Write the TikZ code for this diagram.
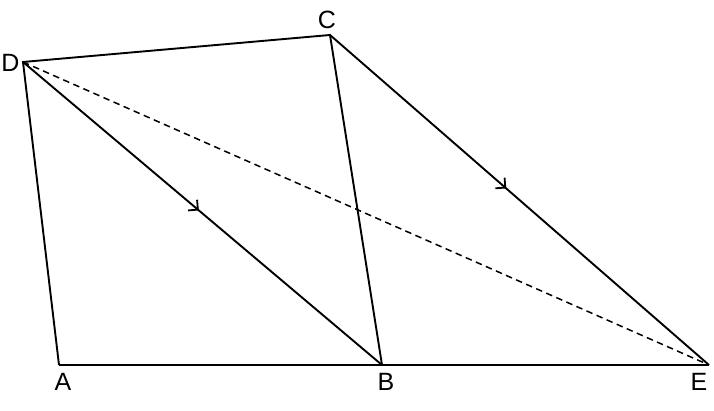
\documentclass[tikz,border=0pt]{standalone}
\usepackage{fontspec}
\setmainfont{Liberation Sans}
\usetikzlibrary{arrows.meta,decorations.markings}
\begin{document}
\begin{tikzpicture}[x=1pt,y=1pt,
  edge/.style={line width=1.9pt},
  dashedge/.style={line width=1.5pt,dash pattern=on 6.5pt off 4.5pt},
  lbl/.style={font=\fontsize{25}{25}\selectfont,inner sep=0pt,anchor=center},
  midarrow/.style={decoration={markings,mark=at position #1 with {\arrow{Straight Barb[length=7pt,width=14pt,line width=1.8pt]}}},postaction={decorate}}]
\useasboundingbox (0,0) rectangle (714,411);
\coordinate (D) at (23,349);
\coordinate (C) at (330,376);
\coordinate (A) at (59,46);
\coordinate (B) at (382,46);
\coordinate (E) at (709,46);
\node[lbl] (lD) at (10.5,348) {D};
\node[lbl] (lC) at (327,391) {C};
\node[lbl] (lA) at (63,29) {A};
\node[lbl] (lB) at (386,29) {B};
\node[lbl] (lE) at (699,29) {E};
\draw[edge,line join=miter] (A) -- (D) -- (C) -- (B);
\draw[edge] (A) -- (E);
\draw[edge,midarrow=0.49] (D) -- (B);
\draw[edge,midarrow=0.465] (C) -- (E);
\draw[dashedge] (D) -- (E);
\end{tikzpicture}
\end{document}
